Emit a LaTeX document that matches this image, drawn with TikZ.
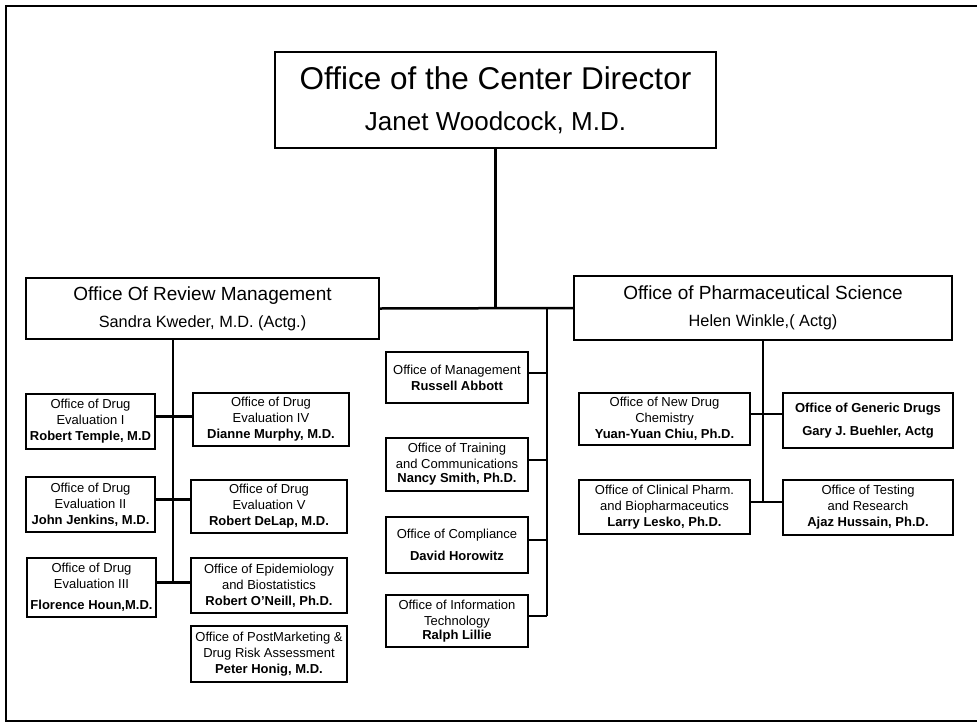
\documentclass[tikz,border=0pt]{standalone}
\usepackage{fontspec}
\setmainfont{Liberation Sans}
\usetikzlibrary{positioning,calc}

\begin{document}
\begin{tikzpicture}[
	x=1pt,y=-1pt,
	every node/.style={align=center},
	office/.style={draw,line width=2pt,inner sep=1pt,font=\fontsize{13}{16}\selectfont},
	head/.style={draw,line width=2pt,inner sep=1pt,font=\fontsize{16.3}{27}\selectfont},
	link/.style={line width=2.5pt},
	]
	\useasboundingbox (0,0) rectangle (977,723);
	\draw[line width=2.5pt] (977,6) -- (6,6) -- (6,721) -- (977,721);

	% director and the two big offices
	\node[draw,line width=2pt,minimum width=441pt,minimum height=96pt,font=\fontsize{26}{41}\selectfont] (ocd) at (495.5,100)
		{{\fontsize{31.5}{41}\selectfont Office of the Center Director}\\Janet Woodcock, M.D.};
	\node[head,minimum width=353pt,minimum height=61pt] (ORM) at (202.5,308.5)
		{{\fontsize{19}{27}\selectfont Office Of Review Management}\\Sandra Kweder, M.D. (Actg.)};
	\node[head,minimum width=378pt,minimum height=64pt] (OPS) at (763,308)
		{{\fontsize{19}{27}\selectfont Office of Pharmaceutical Science}\\Helen Winkle,( Actg)};

	% staff offices
	\node[office,minimum width=142pt,minimum height=51pt] (mgmt) at (457,377.5)
		{Office of Management\\\textbf{Russell Abbott}};
	\node[office,minimum width=142pt,minimum height=53pt] (train) at (457,464.5)
		{Office of Training\\and Communications\\[-2pt]\textbf{Nancy Smith, Ph.D.}};
	\node[office,minimum width=142pt,minimum height=56pt] (compl) at (457,545)
		{Office of Compliance\\[6pt]\textbf{David Horowitz}};
	\node[office,minimum width=142pt,minimum height=52pt] (it) at (457,621)
		{Office of Information\\Technology\\[-1.5pt]\textbf{Ralph Lillie}};

	% review management
	\node[office,minimum width=129pt,minimum height=55pt] (ode1) at (90.5,421.5)
		{Office of Drug\\Evaluation I\\\textbf{Robert Temple, M.D}};
	\node[office,minimum width=156pt,minimum height=53pt] (ode4) at (271,419.5)
		{Office of Drug\\Evaluation IV\\\textbf{Dianne Murphy, M.D.}};
	\node[office,minimum width=129pt,minimum height=55pt] (ode2) at (90.5,504.5)
		{Office of Drug\\Evaluation II\\\textbf{John Jenkins, M.D.}};
	\node[office,minimum width=156pt,minimum height=53pt] (ode5) at (269,506.5)
		{Office of Drug\\Evaluation V\\\textbf{Robert DeLap, M.D.}};
	\node[office,minimum width=129pt,minimum height=59pt] (ode3) at (91.5,587.5)
		{Office of Drug\\Evaluation III\\[5pt]\textbf{Florence Houn,M.D.}};
	\node[office,minimum width=156pt,minimum height=55pt] (oeb) at (269,585.5)
		{Office of Epidemiology\\and Biostatistics\\\textbf{Robert O'Neill, Ph.D.}};
	\node[office,minimum width=156pt,minimum height=56pt] (opdra) at (269,654)
		{Office of PostMarketing \&\\Drug Risk Assessment\\\textbf{Peter Honig, M.D.}};

	% pharmaceutical science
	\node[office,minimum width=171pt,minimum height=52pt] (onds) at (664.5,419)
		{Office of New Drug\\Chemistry\\\textbf{Yuan-Yuan Chiu, Ph.D.}};
	\node[office,minimum width=170pt,minimum height=55pt] (ogd) at (868,420.5)
		{\textbf{Office of Generic Drugs}\\[7pt]\textbf{Gary J. Buehler, Actg}};
	\node[office,minimum width=171pt,minimum height=54pt] (ocpb) at (664.5,507)
		{Office of Clinical Pharm.\\and Biopharmaceutics\\\textbf{Larry Lesko, Ph.D.}};
	\node[office,minimum width=170pt,minimum height=55pt] (otr) at (868,507.5)
		{Office of Testing\\and Research\\\textbf{Ajaz Hussain, Ph.D.}};

	% connectors
	\draw[link] (ocd.south) -- (ocd.south |- ORM.east);
	\draw[link] (ORM.east) -- (OPS.west);

	\coordinate (staff) at ([xshift=-26pt]OPS.west);
	\draw[line width=2pt] (staff) -- ($(staff |- it.east)+(0,-5)$);
	\foreach \n in {mgmt,train,compl,it}
		\draw[line width=2pt] ($(\n.east)+(0,-5)$) -- ($(\n.east -| staff)+(0,-5)$);

	\coordinate (rm) at ([xshift=-29.5pt]ORM.south);
	\draw[link] (rm) -- ($(rm |- ode3.east)+(0,-5)$);
	\foreach \a/\b in {ode1/ode4,ode2/ode5,ode3/oeb}
		\draw[link] ($(\a.east)+(0,-5)$) -- ($(\a.east -| \b.west)+(0,-5)$);

	\draw[link] (OPS.south) -- ($(OPS.south |- ocpb.east)+(0,-5)$);
	\foreach \a/\b in {onds/ogd,ocpb/otr}
		\draw[link] ($(\a.east)+(0,-5)$) -- ($(\a.east -| \b.west)+(0,-5)$);

\end{tikzpicture}
\end{document}
